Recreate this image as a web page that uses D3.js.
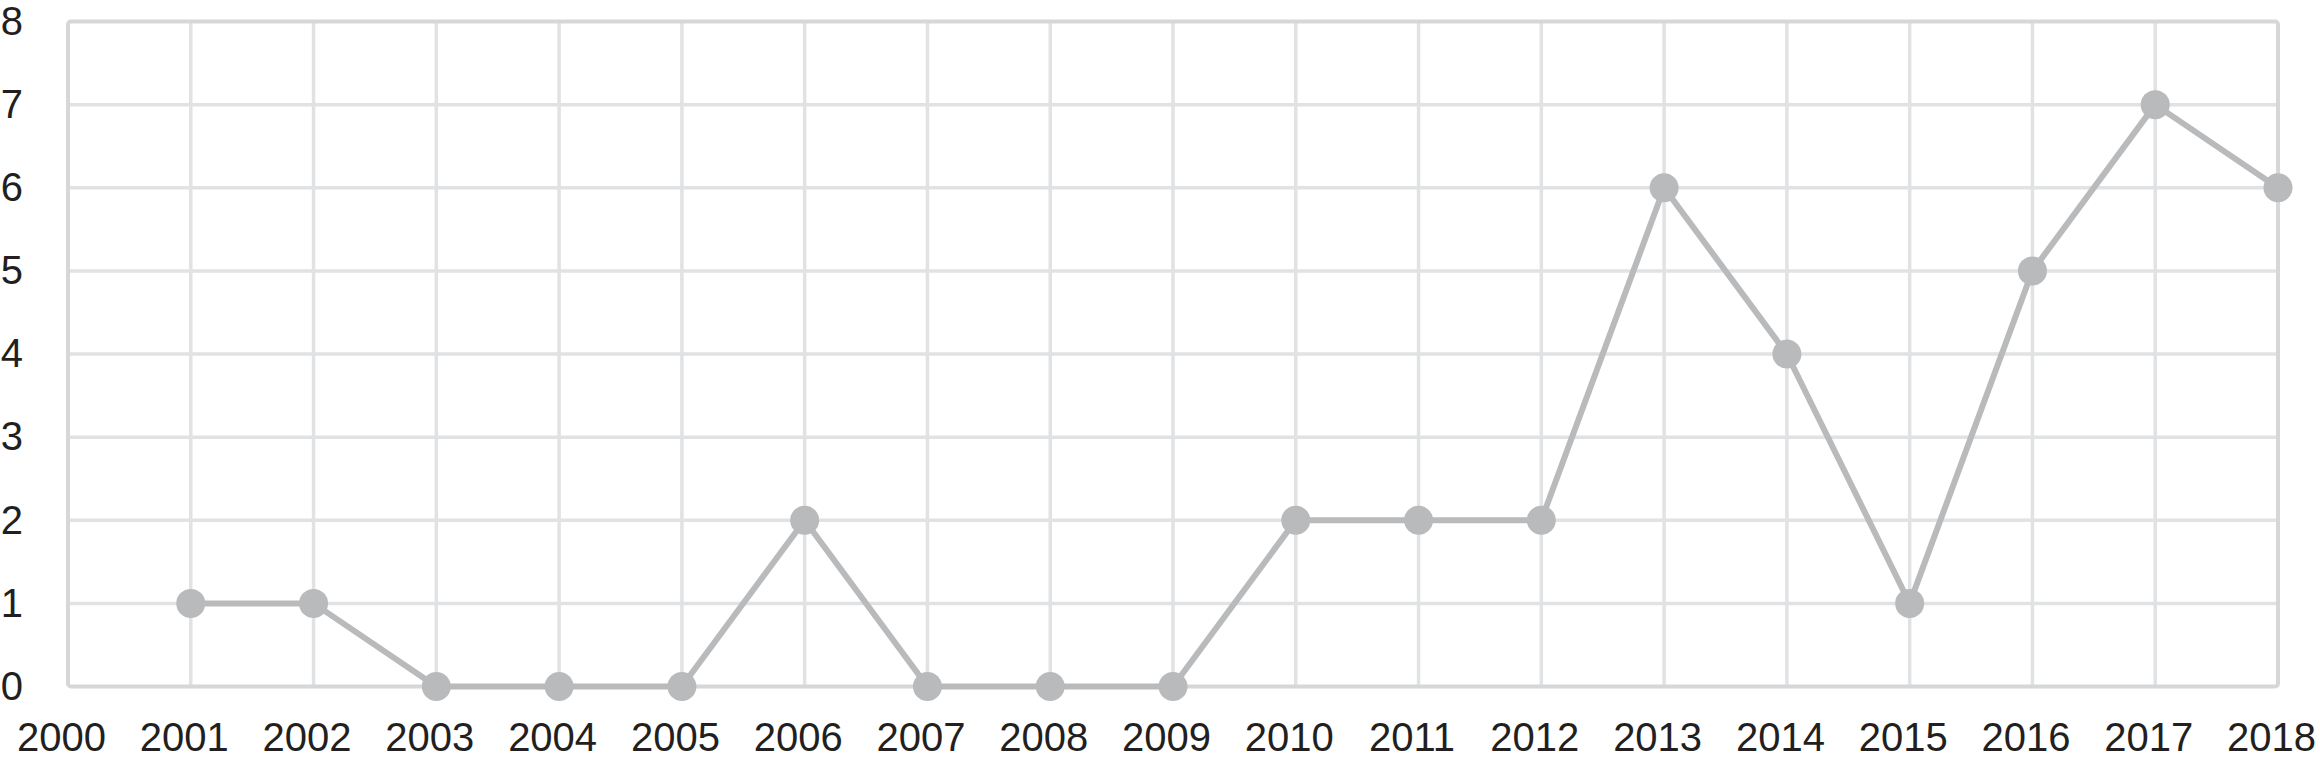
<!DOCTYPE html>
<html><head><meta charset="utf-8">
<script src="https://cdn.jsdelivr.net/npm/d3@7"></script>
<style>body{margin:0;background:#fff}svg{display:block}</style>
</head><body>
<script>
const years = [2001,2002,2003,2004,2005,2006,2007,2008,2009,2010,2011,2012,2013,2014,2015,2016,2017,2018];
const values = [1,1,0,0,0,2,0,0,0,2,2,2,6,4,1,5,7,6];
const xTicks = d3.range(2000,2019);
const yTicks = [0,1,2,3,4,5,6,7,8];

const W=2320,H=761;
const svg=d3.select("body").append("svg").attr("width",W).attr("height",H);
const x=d3.scaleLinear().domain([2000,2018]).range([68,2278]);
const y=d3.scaleLinear().domain([0,8]).range([686.5,21.5]);

const grid=svg.append("g");
grid.selectAll("line.v").data(xTicks.slice(1,-1)).join("line")
  .attr("x1",d=>x(d)).attr("x2",d=>x(d)).attr("y1",y(8)).attr("y2",y(0))
  .attr("stroke","#e1e2e4").attr("stroke-width",3.5);
grid.selectAll("line.h").data(yTicks.slice(1,-1)).join("line")
  .attr("y1",d=>y(d)).attr("y2",d=>y(d)).attr("x1",x(2000)).attr("x2",x(2018))
  .attr("stroke","#e1e2e4").attr("stroke-width",3.5);
svg.append("rect").attr("x",x(2000)).attr("y",y(8)).attr("width",x(2018)-x(2000)).attr("height",y(0)-y(8))
  .attr("rx",3).attr("fill","none").attr("stroke","#d6d7d9").attr("stroke-width",4);

const xAxis=d3.axisBottom(x).tickValues(xTicks).tickFormat(d3.format("d")).tickSize(0).tickPadding(0);
const gx=svg.append("g").attr("transform",`translate(-7,${y(0)})`).call(xAxis);
gx.select(".domain").remove();
gx.selectAll("text").attr("dy",null).attr("y",64).attr("font-family","Liberation Sans, Arial, sans-serif").attr("font-size",40).attr("fill","#231f20");

const yAxis=d3.axisLeft(y).tickValues(yTicks).tickSize(0).tickPadding(0);
const gy=svg.append("g").attr("transform",`translate(23,0)`).call(yAxis);
gy.select(".domain").remove();
gy.selectAll("text").attr("x",0).attr("font-family","Liberation Sans, Arial, sans-serif").attr("font-size",40).attr("fill","#231f20");

const data=years.map((d,i)=>({year:d,v:values[i]}));
svg.append("path").datum(data)
  .attr("d",d3.line().x(d=>x(d.year)).y(d=>y(d.v)))
  .attr("fill","none").attr("stroke","#b9babc").attr("stroke-width",6).attr("stroke-linejoin","round");
svg.selectAll("circle").data(data).join("circle")
  .attr("cx",d=>x(d.year)).attr("cy",d=>y(d.v)).attr("r",14.5).attr("fill","#b9babc");
</script>
</body></html>
